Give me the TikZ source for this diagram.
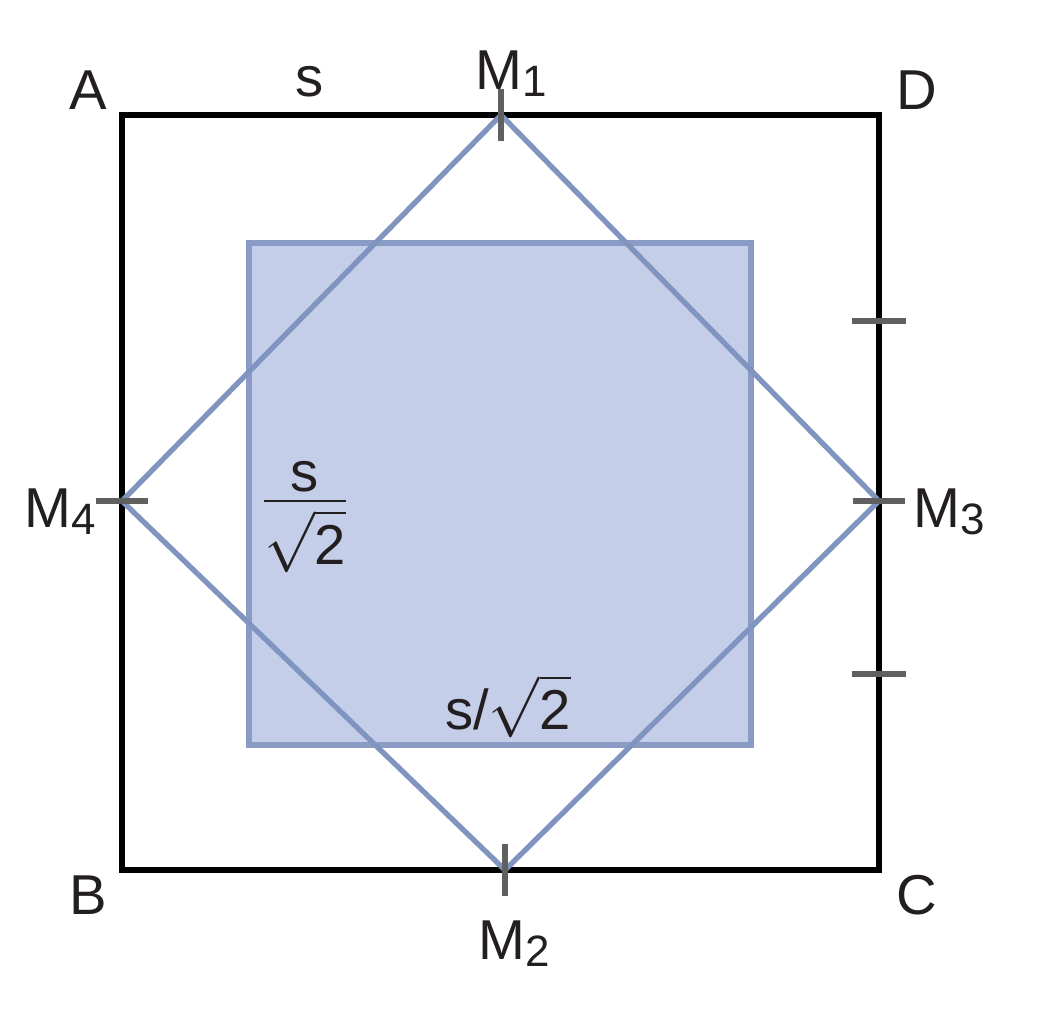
\documentclass[tikz,border=0pt]{standalone}
\usepackage{amsmath}
\usepackage{fontspec}
\setmainfont{Liberation Sans}
\usetikzlibrary{calc,positioning}

\definecolor{diamblue}{RGB}{128,148,192}
\definecolor{fillblue}{RGB}{197,206,232}
\definecolor{edgeblue}{RGB}{138,156,198}
\definecolor{tickgray}{RGB}{96,96,96}
\definecolor{inkblack}{RGB}{35,31,32}

\newcommand{\subidx}[1]{\raisebox{-2pt}{\fontsize{12.5}{14}\selectfont #1}}

\tikzset{
  lbl/.style={font=\fontsize{16}{19}\selectfont, text=inkblack, inner sep=0pt},
  tickmark/.style={draw=tickgray, line width=1.5pt},
}

\begin{document}
\begin{tikzpicture}[x=0.1mm,y=-0.1mm]
  \useasboundingbox (0,0) rectangle (1057,1008);

  % corners and midpoints
  \coordinate (A) at (122,115);
  \coordinate (D) at (879,115);
  \coordinate (C) at (879,870);
  \coordinate (B) at (122,870);
  \coordinate (M1) at (501,115);
  \coordinate (M3) at (879,501);
  \coordinate (M2) at (505,870);
  \coordinate (M4) at (122,501);
  \coordinate (P) at (249,243);
  \coordinate (Q) at (751,745);

  % shaded square
  \fill[fillblue] (P) rectangle (Q);
  \draw[edgeblue, line width=1.6pt] (P) rectangle (Q);

  % outer square
  \draw[black, line width=1.5pt] (A) -- (D) -- (C) -- (B) -- cycle;

  % diamond
  \draw[diamblue, line width=1.5pt, line join=miter] (M1) -- (M3) -- (M2) -- (M4) -- cycle;

  % ticks
  \def\half{26}
  \foreach \p in {M1,M2}
    \draw[tickmark] ($(\p)+(0,-\half)$) -- ($(\p)+(0,\half)$);
  \foreach \p in {M3,M4}
    \draw[tickmark] ($(\p)+(-\half,0)$) -- ($(\p)+(\half,0)$);
  \foreach \y in {321,674}
    \draw[tickmark] (852,\y) -- (906,\y);

  % labels
  \node[lbl] (lA) at (88,90) {A};
  \node[lbl] (lD) at (917,90) {D};
  \node[lbl] (lB) at (88,895) {B};
  \node[lbl] (lC) at (917,895) {C};
  \node[lbl] (ls) at (310,82) {s};
  \node[lbl] (lM1) at (511,74) {M\subidx{1}};
  \node[lbl] (lM2) at (514,944) {M\subidx{2}};
  \node[lbl] (lM3) at (949,512) {M\subidx{3}};
  \node[lbl] (lM4) at (60,512) {M\subidx{4}};
  \node[lbl] (frac) at (305,524) {$\dfrac{\raisebox{-4.5pt}{\smash{\text{s}}}}{\sqrt{\text{2}}}$};
  \node[lbl] (side) at (508,706) {s/$\sqrt{\text{2}}$};
\end{tikzpicture}
\end{document}
